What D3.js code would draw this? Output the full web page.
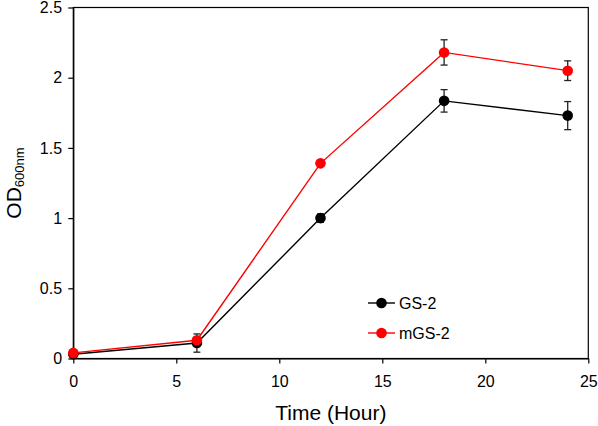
<!DOCTYPE html>
<html><head><meta charset="utf-8">
<script src="https://cdn.jsdelivr.net/npm/d3@7"></script>
<style>body{margin:0;background:#fff}svg{display:block}text{font-family:"Liberation Sans",Arial,sans-serif}</style>
</head><body><svg id="c" width="598" height="426"></svg>
<script>
const hours = [0, 6, 12, 18, 24];
const gs2 = [0.03, 0.11, 1.0, 1.835, 1.73];
const gs2Err = [0.01, 0.065, 0.03, 0.08, 0.1];
const mgs2 = [0.04, 0.13, 1.39, 2.18, 2.05];
const mgs2Err = [0.01, 0.02, 0.01, 0.09, 0.07];
const xTicks = [0, 5, 10, 15, 20, 25];
const yTicks = [0, 0.5, 1, 1.5, 2, 2.5];
const seriesNames = ["GS-2", "mGS-2"];
const colors = ["#000000", "#ff0000"];

const svg = d3.select("#c");
const L = 73.3, R = 588.3, T = 7.5, B = 358.5;
const x = d3.scaleLinear().domain([0, 25]).range([L, R]);
const y = d3.scaleLinear().domain([0, 2.5]).range([B, T]);

// frame
svg.append("rect").attr("x", L).attr("y", T).attr("width", R - L).attr("height", B - T)
  .attr("fill", "none").attr("stroke", "#000").attr("stroke-width", 1.2);

const xa = svg.append("g").attr("transform", `translate(0,${B})`)
  .call(d3.axisBottom(x).tickValues(xTicks).tickFormat(d3.format("d")).tickSize(5).tickSizeOuter(0));
const ya = svg.append("g").attr("transform", `translate(${L},0)`)
  .call(d3.axisLeft(y).tickValues(yTicks).tickFormat(d => String(d)).tickSize(5).tickSizeOuter(0));
[xa, ya].forEach(a => {
  a.select(".domain").attr("stroke", "#000").attr("stroke-width", 1.2);
  a.selectAll(".tick line").attr("stroke", "#000").attr("stroke-width", 1.2);
  a.selectAll(".tick text").attr("font-size", 16).attr("fill", "#000")
    .attr("font-family", "Liberation Sans, Arial, sans-serif");
});
xa.selectAll(".tick text").attr("dy", "1.3em");
ya.selectAll(".tick text").attr("dx", "-0.2em");

const data = [
  {name: seriesNames[0], vals: gs2, err: gs2Err, color: colors[0]},
  {name: seriesNames[1], vals: mgs2, err: mgs2Err, color: colors[1]}
];
const line = d3.line().x((d, i) => x(hours[i])).y(d => y(d));

data.forEach(s => {
  svg.append("path").datum(s.vals).attr("d", line).attr("fill", "none")
    .attr("stroke", s.color).attr("stroke-width", 1.4);
});
data.forEach(s => {
  const g = svg.append("g");
  s.vals.forEach((v, i) => {
    const cx = x(hours[i]);
    const y1 = y(v + s.err[i]), y2 = y(v - s.err[i]);
    g.append("line").attr("x1", cx).attr("x2", cx).attr("y1", y1).attr("y2", y2)
      .attr("stroke", "#222").attr("stroke-width", 1.3);
    [y1, y2].forEach(yy => g.append("line").attr("x1", cx - 3.5).attr("x2", cx + 3.5)
      .attr("y1", yy).attr("y2", yy).attr("stroke", "#222").attr("stroke-width", 1.3));
  });
  g.selectAll("circle").data(s.vals).enter().append("circle")
    .attr("cx", (d, i) => x(hours[i])).attr("cy", d => y(d)).attr("r", 5.3).attr("fill", s.color);
});

// legend
data.forEach((s, i) => {
  const ly = 303 + i * 30;
  svg.append("line").attr("x1", 368).attr("x2", 395).attr("y1", ly).attr("y2", ly)
    .attr("stroke", s.color).attr("stroke-width", 1.4);
  svg.append("circle").attr("cx", 381.5).attr("cy", ly).attr("r", 5.3).attr("fill", s.color);
  svg.append("text").attr("x", 399).attr("y", ly + 6).attr("font-size", 16).text(s.name);
});

// axis titles
svg.append("text").attr("x", (L + R) / 2).attr("y", 420).attr("text-anchor", "middle")
  .attr("font-size", 21).text("Time (Hour)");
const yt = svg.append("text").attr("transform", `translate(21,${(T + B) / 2}) rotate(-90)`)
  .attr("text-anchor", "middle").attr("font-size", 21);
yt.append("tspan").text("OD");
yt.append("tspan").attr("font-size", 13).attr("dy", 3).text("600nm");
</script></body></html>
